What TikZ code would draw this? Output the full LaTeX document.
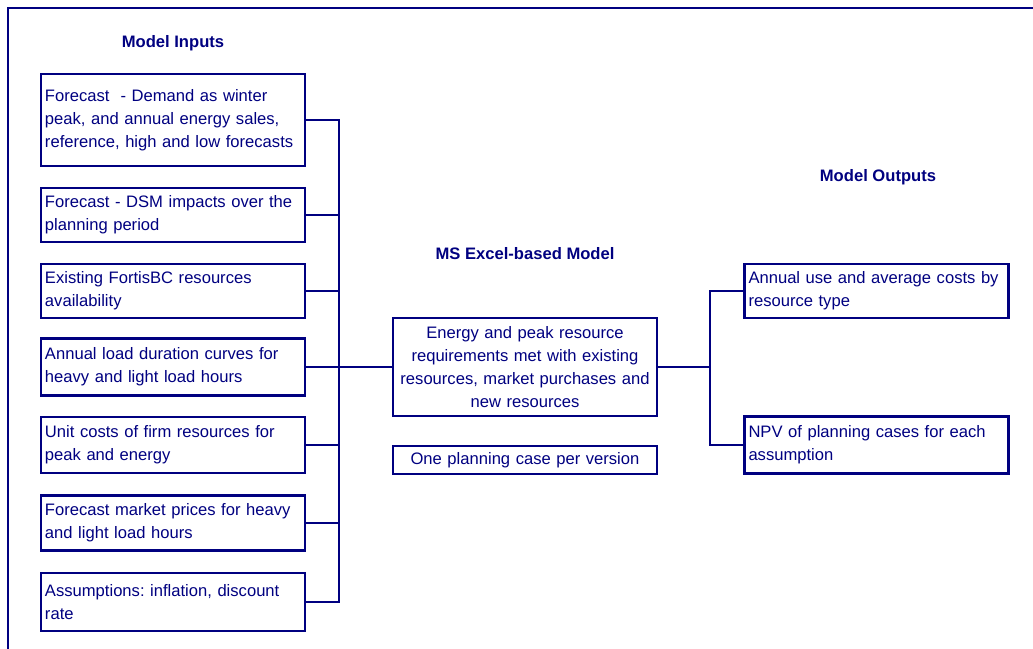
\documentclass[tikz,border=0pt]{standalone}
\usepackage{fontspec}
\setmainfont{Liberation Sans}
\frenchspacing
\definecolor{nv}{RGB}{0,0,128}
\tikzset{
  every node/.style={text=nv, font=\fontsize{12.45}{17.25}\selectfont},
  inbox/.style={draw=nv, line width=1.9pt, minimum width=198pt, text width=192pt, inner xsep=3pt, align=left, anchor=center},
  midbox/.style={draw=nv, line width=1.9pt, minimum width=198pt, text width=192pt, inner xsep=3pt, align=center, anchor=center},
  head/.style={font=\bfseries\fontsize{12.45}{15}\selectfont},
  wire/.style={draw=nv, line width=1.9pt, line cap=rect},
}
\begin{document}
\begin{tikzpicture}[x=0.75pt, y=-0.75pt]
\useasboundingbox (0,0) rectangle (1033,649);
\begin{scope}
\clip (0,0) rectangle (1033,649);
\draw[wire] (8,670) -- (8,8) -- (1050,8);
\end{scope}

\node[head] (hin) at (173,43) {Model Inputs};
\node[head] (hmid) at (525,254) {MS Excel-based Model};
\node[head] (hout) at (878,177) {Model Outputs};

\node[inbox, minimum height=69pt] (i1) at (173,120) {Forecast\ \ - Demand as winter\\peak, and annual energy sales,\\reference, high and low forecasts};
\node[inbox, minimum height=40.5pt] (i2) at (173,215) {Forecast - DSM impacts over the\\planning period};
\node[inbox, minimum height=40.5pt] (i3) at (173,291) {Existing FortisBC resources\\availability};
\node[inbox, minimum height=42.75pt] (i4) at (173,367) {Annual load duration curves for\\heavy and light load hours};
\node[inbox, minimum height=42pt] (i5) at (173,445) {Unit costs of firm resources for\\peak and energy};
\node[inbox, minimum height=41.25pt] (i6) at (173,523) {Forecast market prices for heavy\\and light load hours};
\node[inbox, minimum height=43.5pt] (i7) at (173,602) {Assumptions: inflation, discount\\rate};

\node[midbox, minimum height=73.5pt] (m) at (525,367) {Energy and peak resource\\requirements met with existing\\resources, market purchases and\\new resources};
\node[midbox, minimum height=21pt, inner ysep=1pt] (c) at (525,460) {One planning case per version};

\node[inbox, minimum height=40.5pt] (o1) at (876.5,291) {Annual use and average costs by\\resource type};
\node[inbox, minimum height=42.75pt] (o2) at (876.5,445) {NPV of planning cases for each\\assumption};

\coordinate (bl) at (339,367);
\coordinate (br) at (710,367);

\foreach \n in {i1,i2,i3,i4,i5,i6,i7} {
  \draw[wire] (\n.east) -- (\n.east -| bl);
}
\draw[wire] (i1.east -| bl) -- (i7.east -| bl);
\draw[wire] (bl) -- (m.west);
\draw[wire] (m.east) -- (br);
\draw[wire] (o1.west -| br) -- (o2.west -| br);
\draw[wire] (o1.west -| br) -- (o1.west);
\draw[wire] (o2.west -| br) -- (o2.west);
\end{tikzpicture}
\end{document}
